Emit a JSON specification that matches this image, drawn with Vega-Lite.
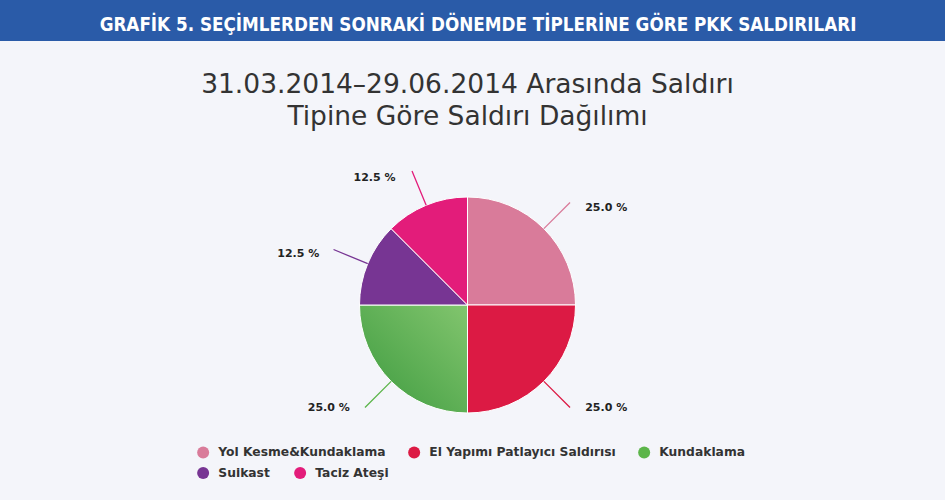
{
  "$schema": "https://vega.github.io/schema/vega-lite/v6.json",
  "background": "#f4f5fa",
  "padding": {"left": 0, "top": 0, "right": 0, "bottom": 21},
  "spacing": 30,
  "config": {"view": {"stroke": null}, "font": "DejaVu Sans"},
  "vconcat": [
    {
      "width": 945,
      "height": 41,
      "view": {"fill": "#2a5ba8", "stroke": null},
      "data": {"values": [{"baslik": "GRAFİK 5. SEÇİMLERDEN SONRAKİ DÖNEMDE TİPLERİNE GÖRE PKK SALDIRILARI"}]},
      "mark": {"type": "text", "font": "Liberation Sans Narrow, DejaVu Sans Condensed, sans-serif", "fontWeight": "bold", "fontSize": 18.7, "fill": "#ffffff", "baseline": "middle", "align": "center", "dx": 5.5, "dy": 4},
      "encoding": {"text": {"field": "baslik", "type": "nominal"}}
    },
    {
      "width": 935,
      "height": 308,
      "title": {
        "text": ["31.03.2014–29.06.2014 Arasında Saldırı", "Tipine Göre Saldırı Dağılımı"],
        "font": "DejaVu Sans",
        "fontSize": 26.5,
        "fontWeight": "normal",
        "color": "#333333",
        "lineHeight": 32,
        "anchor": "middle",
        "baseline": "top",
        "offset": 21
      },
      "data": {"values": [
        {"tip": "Yol Kesme&Kundaklama", "yuzde": 25, "etiket": "25.0 %"},
        {"tip": "El Yapımı Patlayıcı Saldırısı", "yuzde": 25, "etiket": "25.0 %"},
        {"tip": "Kundaklama", "yuzde": 25, "etiket": "25.0 %"},
        {"tip": "Suikast", "yuzde": 12.5, "etiket": "12.5 %"},
        {"tip": "Taciz Ateşi", "yuzde": 12.5, "etiket": "12.5 %"}
      ]},
      "encoding": {
        "theta": {"field": "yuzde", "type": "quantitative", "stack": true, "scale": {"range": [1.5707963, 7.8539816]}},
        "order": {"field": "tip", "type": "nominal", "sort": "ascending"}
      },
      "layer": [
        {
          "mark": {"type": "arc", "outerRadius": 108, "stroke": "#ffffff", "strokeWidth": 1},
          "encoding": {
            "color": {
              "condition": {
                "test": {"field": "tip", "equal": "Kundaklama"},
                "value": {"gradient": "linear", "x1": 1, "y1": 0, "x2": 0, "y2": 1, "stops": [{"offset": 0, "color": "#82c56e"}, {"offset": 1, "color": "#3c9a3e"}]}
              },
              "field": "tip",
              "type": "nominal",
              "scale": {
                "domain": ["Yol Kesme&Kundaklama", "El Yapımı Patlayıcı Saldırısı", "Kundaklama", "Suikast", "Taciz Ateşi"],
                "range": ["#d97b9a", "#dc1a44", "#5cb54a", "#773593", "#e31c7a"]
              },
              "legend": {
                "orient": "none",
                "legendX": 197,
                "legendY": 446,
                "direction": "horizontal",
                "values": ["Yol Kesme&Kundaklama", "El Yapımı Patlayıcı Saldırısı", "Kundaklama"],
                "title": null,
                "symbolType": "circle",
                "symbolSize": 144,
                "symbolStrokeWidth": 0,
                "symbolOpacity": 1,
                "labelFont": "DejaVu Sans",
                "labelFontWeight": "bold",
                "labelFontSize": 12.3,
                "labelColor": "#333333",
                "labelOffset": 9,
                "labelLimit": 400,
                "columnPadding": 22,
                "padding": 0
              }
            }
          }
        },
        {
          "mark": {"type": "arc", "innerRadius": 108, "outerRadius": 145, "padAngle": 3, "filled": false, "strokeWidth": 1.3},
          "encoding": {
            "stroke": {
              "field": "tip",
              "type": "nominal",
              "scale": {
                "domain": ["Suikast", "Taciz Ateşi", "Yol Kesme&Kundaklama", "El Yapımı Patlayıcı Saldırısı", "Kundaklama"],
                "range": ["#773593", "#e31c7a", "#d97b9a", "#dc1a44", "#5cb54a"]
              },
              "legend": {
                "orient": "none",
                "legendX": 197,
                "legendY": 466.6,
                "direction": "horizontal",
                "values": ["Suikast", "Taciz Ateşi"],
                "title": null,
                "symbolType": "circle",
                "symbolSize": 144,
                "symbolStrokeWidth": 0,
                "symbolOpacity": 1,
                "labelFont": "DejaVu Sans",
                "labelFontWeight": "bold",
                "labelFontSize": 12.3,
                "labelColor": "#333333",
                "labelOffset": 9,
                "labelLimit": 400,
                "columnPadding": 24,
                "padding": 0,
                "encode": {"symbols": {"update": {"fill": {"scale": "stroke", "field": "value"}, "strokeWidth": {"value": 0}}}}
              }
            }
          }
        },
        {
          "mark": {"type": "text", "radius": 141, "align": "left", "baseline": "middle", "dx": 18, "dy": 3, "font": "DejaVu Sans", "fontWeight": "bold", "fontSize": 11, "fill": "#222222"},
          "encoding": {
            "text": {
              "condition": {"test": {"field": "tip", "oneOf": ["Yol Kesme&Kundaklama", "El Yapımı Patlayıcı Saldırısı"]}, "field": "etiket", "type": "nominal"},
              "value": ""
            }
          }
        },
        {
          "mark": {"type": "text", "radius": 141, "align": "right", "baseline": "middle", "dx": -18, "dy": 3, "font": "DejaVu Sans", "fontWeight": "bold", "fontSize": 11, "fill": "#222222"},
          "encoding": {
            "text": {
              "condition": {"test": {"field": "tip", "oneOf": ["Kundaklama", "Suikast", "Taciz Ateşi"]}, "field": "etiket", "type": "nominal"},
              "value": ""
            }
          }
        }
      ]
    }
  ]
}
